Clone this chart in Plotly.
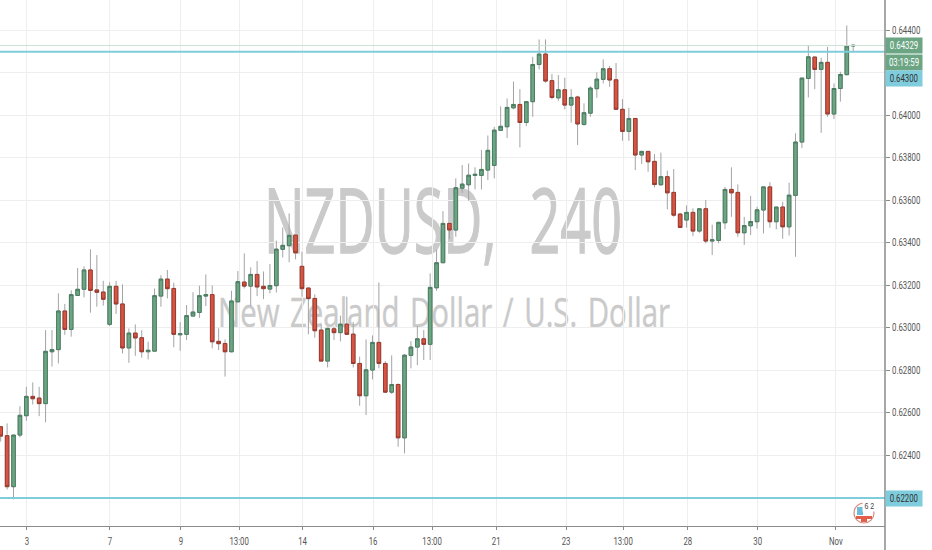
import plotly.graph_objects as go

# 4h candles
opens = [.62535,.62493,.62253,.62496,.62587,.62678,.62670,.62644,.62888,.62898,
         .63080,.62993,.63153,.63182,.63273,.63179,.63169,.63017,.63196,.63113,
         .62906,.62976,.62954,.62888,.62891,.63150,.63230,.63186,.62968,.62970,
         .63056,.63073,.63150,.63157,.62937,.62927,.62888,.63123,.63216,.63197,
         .63252,.63196,.63183,.63199,.63370,.63387,.63437,.63290,.63188,.63139,
         .62990,.62844,.62996,.62978,.63018,.62971,.62833,.62681,.62802,.62932,
         .62833,.62698,.62734,.62483,.62871,.62910,.62949,.62923,.63189,.63307,
         .63492,.63461,.63658,.63674,.63718,.63718,.63743,.63765,.63930,.63947,
         .64036,.64052,.63967,.64065,.64240,.64289,.64164,.64083,.64121,.64049,
         .64087,.63958,.64011,.64126,.64170,.64220,.64168,.64029,.63925,.63986,
         .63814,.63831,.63784,.63674,.63712,.63638,.63536,.63508,.63544,.63456,
         .63561,.63409,.63412,.63495,.63652,.63638,.63448,.63481,.63500,.63555,
         .63664,.63500,.63569,.63476,.63624,.63875,.64174,.64275,.64217,.64250,
         .64007,.64127,.64192,.64327]
highs = [.62538,.62551,.62496,.62632,.62723,.62744,.62723,.62990,.62990,.63163,
         .63113,.63177,.63282,.63290,.63370,.63343,.63222,.63215,.63222,.63205,
         .62998,.63017,.62990,.62935,.63186,.63248,.63273,.63213,.63028,.63108,
         .63168,.63199,.63252,.63200,.62998,.62946,.63175,.63268,.63351,.63285,
         .63315,.63266,.63301,.63411,.63473,.63539,.63437,.63359,.63188,.63158,
         .63017,.63001,.63006,.63058,.63147,.63028,.62865,.62946,.62965,.63214,
         .62844,.62871,.62739,.62877,.62938,.63009,.62990,.63257,.63368,.63550,
         .63492,.63704,.63767,.63774,.63756,.63837,.63906,.63947,.64043,.64080,
         .64160,.64124,.64065,.64276,.64358,.64358,.64195,.64190,.64178,.64124,
         .64093,.64057,.64138,.64203,.64264,.64233,.64247,.64077,.64036,.63986,
         .63831,.63831,.63818,.63825,.63740,.63748,.63542,.63577,.63563,.63561,
         .63602,.63486,.63500,.63664,.63756,.63676,.63523,.63622,.63570,.63664,
         .63686,.63570,.63594,.63683,.63916,.64176,.64328,.64275,.64272,.64323,
         .64151,.64206,.64424,.64334]
lows = [.62465,.62240,.62193,.62485,.62563,.62640,.62585,.62556,.62818,.62833,
        .62967,.62959,.63150,.63144,.63072,.63100,.63105,.63009,.63066,.62880,
        .62836,.62869,.62860,.62852,.62891,.63100,.63139,.62909,.62893,.62943,
        .63056,.63047,.63103,.62904,.62896,.62771,.62885,.63123,.63186,.63103,
        .63150,.63136,.63163,.63167,.63332,.63309,.63323,.63147,.62970,.62954,
        .62844,.62814,.62943,.62937,.62970,.62814,.62634,.62590,.62758,.62810,
        .62695,.62689,.62441,.62410,.62810,.62825,.62849,.62849,.63175,.63307,
        .63418,.63429,.63636,.63599,.63652,.63652,.63696,.63704,.63930,.63894,
        .64029,.63850,.63950,.63994,.64217,.64154,.64076,.64069,.64029,.63966,
        .63861,.63952,.63994,.64083,.64151,.64135,.64029,.63881,.63881,.63743,
        .63771,.63735,.63661,.63669,.63558,.63523,.63472,.63472,.63432,.63448,
        .63398,.63343,.63398,.63465,.63523,.63429,.63391,.63437,.63468,.63445,
        .63472,.63464,.63420,.63435,.63335,.63847,.64085,.64124,.63919,.63994,
        .63983,.64065,.64192,.64302]
closes = [.62491,.62253,.62496,.62589,.62678,.62667,.62644,.62890,.62898,.63080,
          .62993,.63157,.63182,.63273,.63177,.63168,.63135,.63196,.63113,.62906,
          .62976,.62953,.62888,.62895,.63152,.63230,.63185,.62970,.62973,.63058,
          .63075,.63152,.63157,.62935,.62926,.62888,.63127,.63218,.63197,.63252,
          .63193,.63185,.63200,.63371,.63389,.63436,.63354,.63185,.63138,.62987,
          .62844,.62998,.62978,.63018,.62970,.62833,.62681,.62803,.62932,.62833,
          .62698,.62734,.62483,.62872,.62910,.62949,.62923,.63191,.63307,.63492,
          .63461,.63660,.63677,.63719,.63723,.63746,.63836,.63931,.63949,.64038,
          .64052,.63967,.64065,.64240,.64289,.64162,.64085,.64121,.64049,.64085,
          .63960,.64013,.64129,.64171,.64220,.64167,.64029,.63925,.63986,.63814,
          .63831,.63782,.63675,.63712,.63636,.63531,.63473,.63544,.63456,.63561,
          .63409,.63415,.63497,.63652,.63636,.63448,.63482,.63501,.63556,.63664,
          .63500,.63569,.63476,.63625,.63875,.64176,.64276,.64217,.64250,.64007,
          .64127,.64193,.64327,.64330]

x_ticks = [4.1, 17.05, 28.1, 37.2, 47.1, 58.1, 67.3, 77.3, 88.2, 97.1, 107.2, 118.1, 130.3]
x_labels = ["3", "7", "9", "13:00", "14", "16", "13:00", "21", "23", "13:00", "28", "30", "Nov"]
y_ticks = [.622, .624, .626, .628, .630, .632, .634, .636, .638, .640, .642, .644]
y_labels = ["", "0.62400", "0.62600", "0.62800", "0.63000", "0.63200", "0.63400",
            "0.63600", "0.63800", "0.64000", "", "0.64400"]
levels = [.6430, .6220]
last_price = .64329

UP = "#6ba583"
DOWN = "#d75442"
CYAN = "#7fccdc"
GREY = "#cacaca"
FONT = "Roboto"
W, H = 932, 550
PLOT_W, PLOT_H = 885, 526

xs = list(range(len(opens)))
body_hi = [max(a, b) for a, b in zip(opens, closes)]
body_lo = [min(a, b) for a, b in zip(opens, closes)]


def px(x):
    return x / PLOT_W


def py(y):
    return 1 - y / PLOT_H


fig = go.Figure()

# wicks are grey and the body border dark, so two traces
fig.add_trace(go.Candlestick(
    x=xs, open=opens, high=highs, low=lows, close=closes,
    increasing=dict(line=dict(color="#a3a3a5", width=1), fillcolor=UP),
    decreasing=dict(line=dict(color="#a3a3a5", width=1), fillcolor=DOWN),
    whiskerwidth=0, showlegend=False, hoverinfo="skip"))
fig.add_trace(go.Candlestick(
    x=xs, open=opens, high=body_hi, low=body_lo, close=closes,
    increasing=dict(line=dict(color="#4a7d60", width=1), fillcolor=UP),
    decreasing=dict(line=dict(color="#9a3a2e", width=1), fillcolor=DOWN),
    whiskerwidth=0, showlegend=False, hoverinfo="skip"))

# watermark sits under the candles, so shape labels not annotations
fig.add_shape(type="rect", xref="paper", yref="paper", layer="below",
              x0=px(143), x1=px(743), y0=py(175), y1=py(272), line_width=0,
              fillcolor="rgba(0,0,0,0)",
              label=dict(text="NZDUSD, 240", textposition="middle center",
                         font=dict(family="Open Sans", size=90, color=GREY)))
fig.add_shape(type="rect", xref="paper", yref="paper", layer="below",
              x0=px(143), x1=px(745), y0=py(288), y1=py(340), line_width=0,
              fillcolor="rgba(0,0,0,0)",
              label=dict(text="New Zealand Dollar / U.S. Dollar", textposition="middle center",
                         font=dict(family="Open Sans", size=40, color=GREY)))

fig.add_hline(y=last_price, line=dict(color="#c9e2d3", width=1))
for lvl in levels:
    fig.add_hline(y=lvl, line=dict(color=CYAN, width=2))

# price axis line runs down past the time axis
fig.add_shape(type="line", xref="paper", yref="paper", x0=1, x1=1, y0=py(550), y1=1,
              line=dict(color="#8a8a8a", width=1.5))

# right hand price boxes
tags = [("0.64329", 45.5, UP, "white"), ("03:19:59", 63, UP, "white"),
        ("0.64300", 78.5, CYAN, "#333333"), ("0.62200", 498, CYAN, "#333333")]
for txt, yy, bg, fg in tags:
    fig.add_annotation(xref="paper", yref="paper", x=1, y=py(yy), text=txt, showarrow=False,
                       xanchor="left", yanchor="middle", width=36, height=15, bgcolor=bg,
                       borderpad=0, font=dict(family=FONT, size=10, color=fg))

# small flag badge bottom right
fig.add_shape(type="circle", xref="paper", yref="paper", x0=px(854), x1=px(874), y0=py(523), y1=py(503),
              line=dict(color="#d98a80", width=1.2), fillcolor="white")
fig.add_shape(type="rect", xref="paper", yref="paper", x0=px(857), x1=px(863), y0=py(515), y1=py(507),
              line_width=0, fillcolor="#6fbcd6")
fig.add_shape(type="rect", xref="paper", yref="paper", x0=px(856), x1=px(872), y0=py(519), y1=py(516),
              line_width=0, fillcolor="#e0604c")
fig.add_shape(type="rect", xref="paper", yref="paper", x0=px(861), x1=px(867), y0=py(522), y1=py(519),
              line_width=0, fillcolor="#e0604c")
fig.add_annotation(xref="paper", yref="paper", x=px(869.5), y=py(505.5), text="6\u00a02", showarrow=False,
                   xanchor="center", yanchor="middle", bgcolor="white", borderpad=0,
                   font=dict(family="Liberation Sans", size=9, color="#444444"))

fig.update_layout(
    width=W, height=H, autosize=False,
    margin=dict(l=0, r=W - PLOT_W, t=0, b=H - PLOT_H),
    paper_bgcolor="white", plot_bgcolor="white",
    showlegend=False, boxgap=0.2,
    font=dict(family=FONT, size=10, color="#555555"),
    xaxis=dict(range=[-0.11, 137.96], rangeslider=dict(visible=False), tickmode="array",
               tickvals=x_ticks, ticktext=x_labels, showgrid=True, gridcolor="#eeeeee",
               ticks="outside", ticklen=3, tickcolor="#8a8a8a", showline=True,
               linecolor="#8a8a8a", linewidth=1, zeroline=False, ticklabelstandoff=3),
    yaxis=dict(range=[.62068, .645435], side="right", tickmode="array",
               tickvals=y_ticks, ticktext=y_labels, showgrid=True, gridcolor="#eeeeee",
               ticks="outside", ticklen=4, tickcolor="#8a8a8a", showline=False,
               zeroline=False),
)

# the original type is much narrower than any font here, squeeze it
squeeze = """
document.body.style.margin = '0';
var fixed = {'NZDUSD, 240': [358, 32, 1.5], 'New Zealand Dollar / U.S. Dollar': [452, 4, 0.4]};
document.querySelectorAll('svg text').forEach(function (t) {
    var s = t.textContent;
    if (!s) return;
    var f = fixed[s];
    if (f) {
        t.style.wordSpacing = f[1] + 'px';
        t.style.stroke = '#cacaca';
        t.style.strokeWidth = f[2] + 'px';
    }
    t.setAttribute('textLength', f ? f[0] : t.getComputedTextLength() * 0.78);
    t.setAttribute('lengthAdjust', 'spacingAndGlyphs');
});
"""
fig.write_html("out.html", config=dict(displayModeBar=False), post_script=squeeze)
